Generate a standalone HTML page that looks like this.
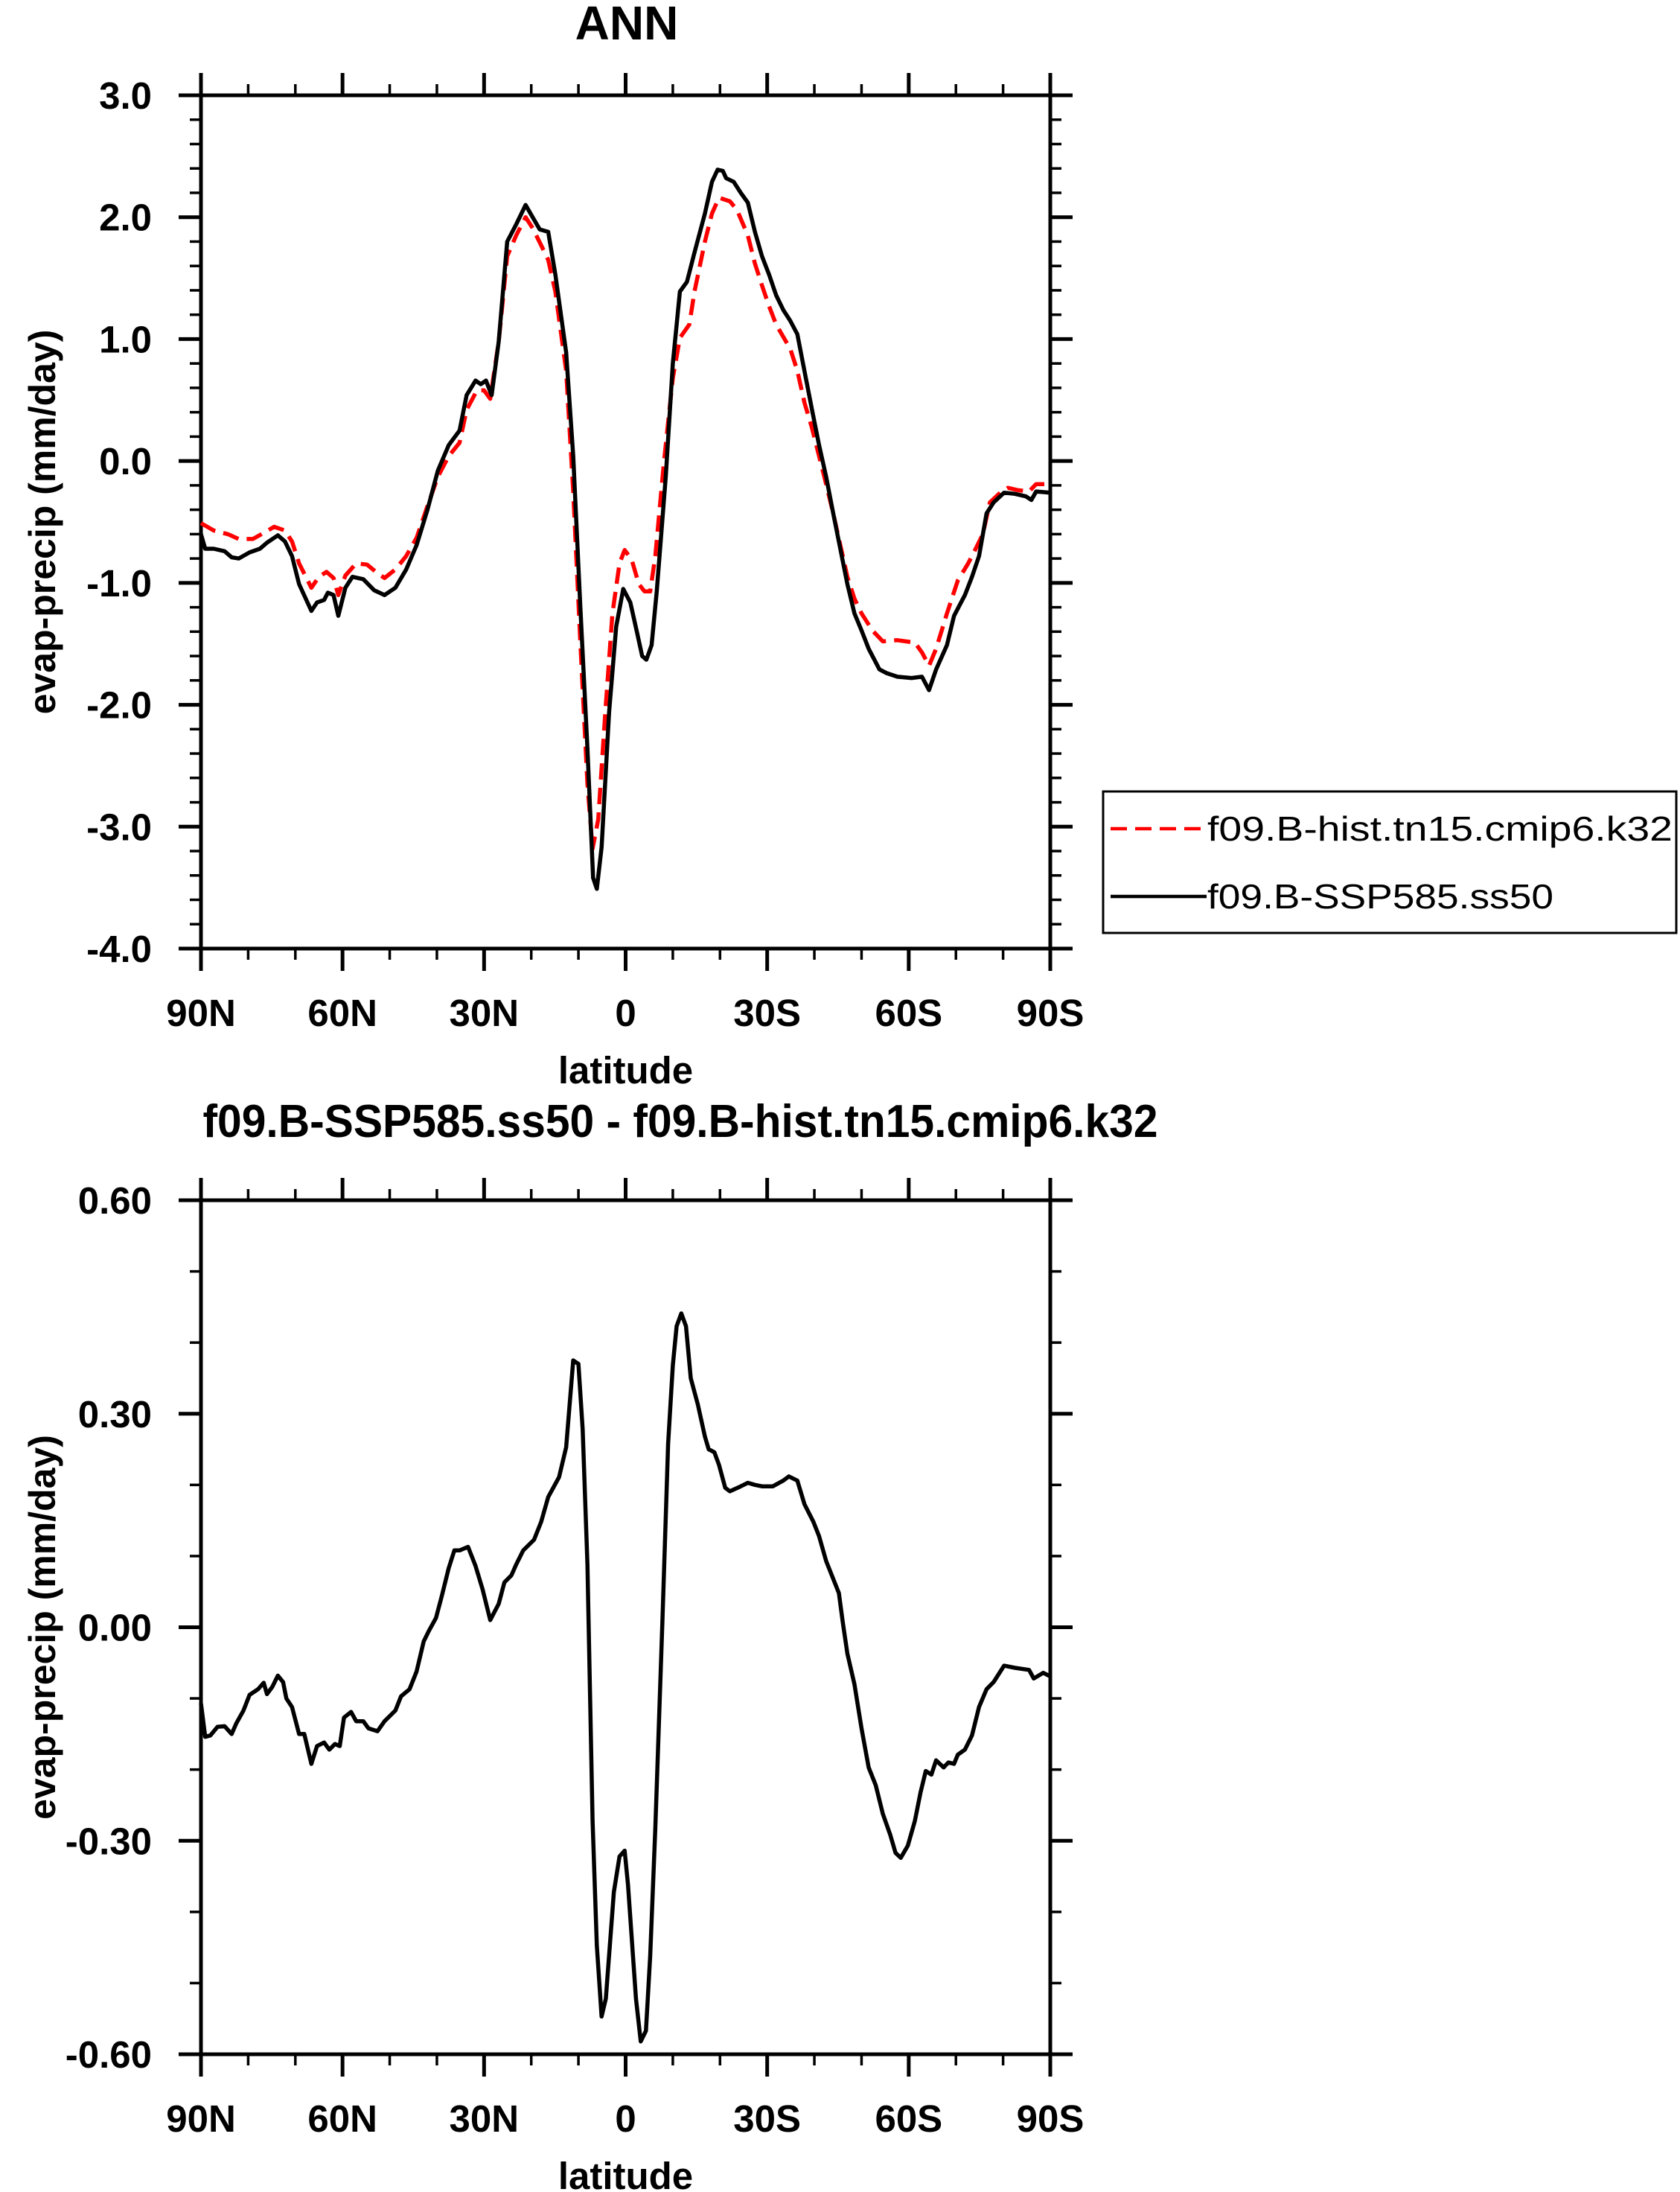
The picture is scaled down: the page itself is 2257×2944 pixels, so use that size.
<!DOCTYPE html>
<html><head><meta charset="utf-8"><style>
html,body{margin:0;padding:0;background:#fff;}
svg{display:block;font-family:"Liberation Sans",Arial,sans-serif;}
</style></head><body>
<svg id="chart" width="2257" height="2944" viewBox="0 0 2257 2944" xmlns="http://www.w3.org/2000/svg">
<g id="g"></g>
</svg>
<script>
const xTickLats=[90,60,30,0,-30,-60,-90];
const xTickLabels=["90N","60N","30N","0","30S","60S","90S"];
const topYTicks=[3,2,1,0,-1,-2,-3,-4];
const topYLabels=["3.0","2.0","1.0","0.0","-1.0","-2.0","-3.0","-4.0"];
const botYTicks=[0.6,0.3,0,-0.3,-0.6];
const botYLabels=["0.60","0.30","0.00","-0.30","-0.60"];

const sspLat=[90,89.1,87.3,85,83.5,82,79.7,77.5,76,73.7,72.2,70.7,69.2,66.6,65.4,63.9,63.1,61.9,60.9,59.4,57.9,55.6,53.3,51.1,48.8,46.5,44.3,42,39.8,37.5,35.2,33.7,31.8,30.7,29.6,28.4,26.9,25.1,23.2,21.2,19.7,18.2,16.4,14.9,12.6,11.1,9.6,8.1,6.9,6.1,5.1,3.5,2.0,0.5,-1.0,-2.5,-3.5,-4.4,-5.5,-6.6,-8.5,-10,-11.5,-13,-14.6,-16.8,-18.3,-19.5,-20.6,-21.3,-22.9,-24.4,-25.9,-27.4,-28.9,-30.4,-31.9,-33.4,-34.9,-36.4,-37.9,-39.5,-41,-42.5,-44,-45.5,-47,-48.5,-50,-51.5,-53.8,-55.3,-57.6,-60.6,-62.8,-64.3,-65.8,-68.1,-69.6,-71.9,-73.4,-74.9,-76.5,-78,-80.2,-82.5,-84.8,-86,-87,-90];
const sspVal=[-0.6,-0.72,-0.72,-0.74,-0.79,-0.8,-0.75,-0.72,-0.67,-0.61,-0.66,-0.78,-1.01,-1.23,-1.16,-1.14,-1.08,-1.1,-1.27,-1.04,-0.95,-0.97,-1.06,-1.1,-1.04,-0.89,-0.69,-0.4,-0.08,0.13,0.25,0.54,0.66,0.63,0.66,0.54,0.98,1.8,1.94,2.1,2.0,1.9,1.88,1.53,0.89,0.04,-1.19,-2.36,-3.42,-3.51,-3.17,-2.06,-1.36,-1.05,-1.16,-1.42,-1.6,-1.63,-1.51,-1.07,-0.13,0.8,1.39,1.47,1.71,2.03,2.29,2.39,2.38,2.32,2.29,2.2,2.12,1.88,1.68,1.53,1.36,1.24,1.15,1.04,0.74,0.42,0.13,-0.13,-0.43,-0.72,-1.01,-1.25,-1.39,-1.54,-1.71,-1.74,-1.77,-1.78,-1.77,-1.88,-1.71,-1.51,-1.27,-1.1,-0.95,-0.78,-0.43,-0.34,-0.26,-0.27,-0.29,-0.32,-0.25,-0.26];

const histLat=[90,87.3,84.3,82,79,76.7,74.5,72.2,70.7,69.2,66.6,65,63.4,61.9,60.9,59.4,57.1,54.8,52.6,51.1,48.8,46.5,44.3,42,39.8,37.5,35.2,33.7,31.5,30,28.7,26.9,25.1,23.2,21.2,19.7,17.9,16.4,14.9,12.6,11.1,9.6,8.1,7.0,5.8,4.3,2.8,1.3,0.2,-1.3,-2.8,-4,-5.2,-6.3,-8.1,-10,-11.5,-13.5,-14.6,-16.8,-18.3,-19.8,-22.1,-23.6,-25.9,-27.4,-28.9,-30.4,-31.9,-33.4,-34.9,-36.4,-37.9,-39.5,-41,-42.5,-44,-45.5,-47,-48.5,-50,-52.3,-54.5,-57.6,-61.3,-62.8,-64.3,-65.8,-68.1,-70.4,-72.6,-74.2,-75.7,-77.2,-79.4,-81,-83.2,-85.5,-87,-90];
const histVal=[-0.51,-0.57,-0.6,-0.64,-0.64,-0.59,-0.54,-0.57,-0.66,-0.84,-1.04,-0.95,-0.91,-0.96,-1.1,-0.94,-0.84,-0.85,-0.92,-0.96,-0.89,-0.78,-0.63,-0.37,-0.13,0.04,0.15,0.42,0.58,0.58,0.51,0.98,1.68,1.85,2.0,1.91,1.77,1.65,1.39,0.74,-0.25,-1.48,-2.65,-3.18,-2.94,-2.06,-1.25,-0.84,-0.73,-0.81,-1.01,-1.07,-1.07,-0.78,-0.02,0.68,1.01,1.12,1.39,1.8,2.03,2.16,2.13,2.06,1.85,1.62,1.44,1.27,1.12,1.02,0.92,0.74,0.48,0.27,0.04,-0.19,-0.43,-0.69,-0.95,-1.13,-1.25,-1.39,-1.48,-1.47,-1.49,-1.57,-1.68,-1.54,-1.25,-0.98,-0.84,-0.72,-0.6,-0.34,-0.26,-0.22,-0.24,-0.25,-0.19,-0.19];

const diffLat=[90,89.1,88,86.5,85,83.5,82.5,81,79.7,77.9,76.7,76,74.9,73.7,72.6,71.9,70.7,69.2,68.1,66.6,65.4,63.9,62.8,61.6,60.6,59.7,58.2,57.1,55.6,54.5,52.6,51.1,48.8,47.6,45.8,44.3,42.8,41.7,40.2,39,37.5,36.3,35.2,33.4,31.8,30.3,28.7,26.9,25.7,24.2,23.2,21.7,19.4,17.9,16.4,14.1,12.6,11.1,10,9.1,8.1,7,6.1,5.1,4.2,2.5,1.3,0.2,-0.5,-2.2,-3.2,-4.3,-5.2,-6.3,-7.8,-9,-10,-10.8,-11.8,-12.8,-13.8,-15.3,-16.8,-17.6,-18.8,-19.8,-21.1,-22.1,-24.4,-25.9,-27.4,-28.9,-31.2,-33.4,-34.6,-36.4,-37.9,-39.8,-41,-42.5,-44,-45.2,-46,-47,-48.5,-50,-51.5,-53,-54.5,-56.1,-57.2,-58.3,-59.8,-61.3,-62.5,-63.6,-64.8,-65.8,-67.4,-68.4,-69.6,-70.4,-71.9,-73.4,-74.9,-76.5,-78,-80.2,-82.5,-85.5,-86.5,-88.5,-90];
const diffVal=[-0.107,-0.154,-0.152,-0.14,-0.139,-0.15,-0.135,-0.117,-0.095,-0.087,-0.078,-0.094,-0.084,-0.068,-0.077,-0.1,-0.112,-0.15,-0.15,-0.192,-0.167,-0.162,-0.172,-0.164,-0.167,-0.127,-0.119,-0.132,-0.132,-0.142,-0.146,-0.132,-0.117,-0.097,-0.087,-0.062,-0.02,-0.005,0.013,0.043,0.083,0.108,0.108,0.113,0.086,0.053,0.01,0.033,0.063,0.073,0.088,0.108,0.123,0.148,0.183,0.211,0.253,0.375,0.37,0.278,0.088,-0.272,-0.447,-0.547,-0.522,-0.372,-0.322,-0.314,-0.362,-0.522,-0.582,-0.567,-0.462,-0.282,0.008,0.258,0.368,0.423,0.441,0.423,0.35,0.313,0.268,0.25,0.246,0.228,0.196,0.191,0.198,0.203,0.2,0.198,0.198,0.206,0.212,0.206,0.173,0.148,0.128,0.093,0.068,0.048,0.008,-0.037,-0.08,-0.142,-0.197,-0.222,-0.262,-0.292,-0.317,-0.324,-0.307,-0.272,-0.232,-0.202,-0.207,-0.187,-0.197,-0.19,-0.192,-0.179,-0.172,-0.152,-0.112,-0.087,-0.077,-0.054,-0.057,-0.06,-0.072,-0.064,-0.069];

const NS="http://www.w3.org/2000/svg";
const G=document.getElementById('g');
function mk(tag,attrs,parent){const e=document.createElementNS(NS,tag);for(const k in attrs)e.setAttribute(k,attrs[k]);(parent||G).appendChild(e);return e;}
const X0=270,X1=1411;
function xs(lat){return X0+(90-lat)/180*(X1-X0);}

function panel(prefix,top,bot,ymax,ymin,yT,yL,minorStep,lab){
  const ys=v=>top+(ymax-v)/(ymax-ymin)*(bot-top);
  const grp=mk('g',{});
  
  
  for(let lat=90;lat>=-90;lat-=10){const x=xs(lat);
    mk('line',{x1:x,x2:x,y1:top,y2:top-15,stroke:'#000','stroke-width':3.5},grp);
    mk('line',{x1:x,x2:x,y1:bot,y2:bot+15,stroke:'#000','stroke-width':3.5},grp);}
  const n=Math.round((ymax-ymin)/minorStep);
  for(let i=0;i<=n;i++){const y=ys(ymin+i*minorStep);
    mk('line',{x1:X0,x2:X0-15,y1:y,y2:y,stroke:'#000','stroke-width':3.5},grp);
    mk('line',{x1:X1,x2:X1+15,y1:y,y2:y,stroke:'#000','stroke-width':3.5},grp);}
  xTickLats.forEach((lat,i)=>{const x=xs(lat);
    mk('line',{x1:x,x2:x,y1:top,y2:top-30,stroke:'#000','stroke-width':5},grp);
    mk('line',{x1:x,x2:x,y1:bot,y2:bot+30,stroke:'#000','stroke-width':5},grp);
    const t=mk('text',{x:x,y:bot+104,'font-size':51,'font-weight':'bold','text-anchor':'middle'},grp);
    t.textContent=xTickLabels[i];
    
    });
  yT.forEach((v,i)=>{const y=ys(v);
    mk('line',{x1:X0,x2:X0-30,y1:y,y2:y,stroke:'#000','stroke-width':5},grp);
    mk('line',{x1:X1,x2:X1+30,y1:y,y2:y,stroke:'#000','stroke-width':5},grp);
    const t=mk('text',{x:204,y:y+18,'font-size':51,'font-weight':'bold','text-anchor':'end'},grp);
    t.textContent=yL[i];
    
    });
  const r=mk('rect',{x:X0,y:top,width:X1-X0,height:bot-top,fill:'none',stroke:'#000','stroke-width':5},grp);
  
  
  const xl=mk('text',{x:(X0+X1)/2,y:lab,'font-size':51,'font-weight':'bold','text-anchor':'middle'},grp);
  xl.textContent='latitude';
  
  
  const cy=(top+bot)/2;
  const yl=mk('text',{x:0,y:0,'font-size':50,'font-weight':'bold','text-anchor':'middle',transform:`translate(74,${cy}) rotate(-90)`},grp);
  yl.textContent='evap-precip (mm/day)';
  
  
  return ys;
}
function line(lats,vals,ys,attrs,name){
  const d=lats.map((l,i)=>(i?'L':'M')+xs(l).toFixed(1)+','+ys(vals[i]).toFixed(1)).join(' ');
  const p=mk('path',Object.assign({d:d,fill:'none','stroke-width':5.5,'stroke-linejoin':'round'},attrs));
  
  
}
const ys1=panel('top',128,1274,3,-4,topYTicks,topYLabels,0.2,1455);
line(histLat,histVal,ys1,{stroke:'#f00','stroke-dasharray':'22,11'},'hist-series-line');
line(sspLat,sspVal,ys1,{stroke:'#000'},'ssp585-series-line');
const ys2=panel('bottom',1612,2759,0.6,-0.6,botYTicks,botYLabels,0.1,2940);
line(diffLat,diffVal,ys2,{stroke:'#000'},'difference-series-line');

const t1=mk('text',{x:842,y:53,'font-size':64,'font-weight':'bold','text-anchor':'middle'});
t1.textContent='ANN';


const t2=mk('text',{x:914,y:1527,'font-size':62,'font-weight':'bold','text-anchor':'middle',textLength:1283,lengthAdjust:'spacingAndGlyphs'});
t2.textContent='f09.B-SSP585.ss50 - f09.B-hist.tn15.cmip6.k32';



const lg=mk('g',{});


mk('rect',{x:1482,y:1063,width:770,height:190,fill:'#fff',stroke:'#000','stroke-width':3},lg);
mk('line',{x1:1492,x2:1621,y1:1113,y2:1113,stroke:'#f00','stroke-width':4.5,'stroke-dasharray':'22,11'},lg);
mk('line',{x1:1492,x2:1621,y1:1204,y2:1204,stroke:'#000','stroke-width':4.5},lg);
const l1=mk('text',{x:1622,y:1129,'font-size':46,textLength:625,lengthAdjust:'spacingAndGlyphs'},lg);
l1.textContent='f09.B-hist.tn15.cmip6.k32';


const l2=mk('text',{x:1622,y:1220,'font-size':46,textLength:465,lengthAdjust:'spacingAndGlyphs'},lg);
l2.textContent='f09.B-SSP585.ss50';


</script>
</body></html>
